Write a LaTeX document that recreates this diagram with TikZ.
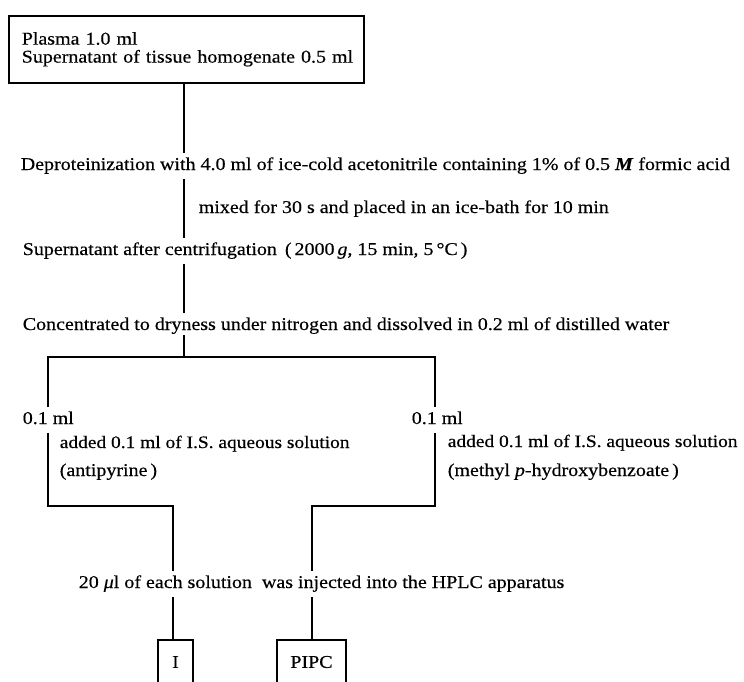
\documentclass[tikz,border=0pt]{standalone}
\usepackage{fontspec}
\setmainfont[FakeStretch=1.11,FakeBold=0.4]{Liberation Serif}
\begin{document}
\begin{tikzpicture}[x=1pt,y=-1pt,line width=1.6pt,
  txtfont/.style={font=\fontsize{18}{18}\selectfont},
  txt/.style={txtfont,anchor=base west,inner xsep=0pt,inner ysep=4pt,text height=12pt,text depth=4pt},
  addtxt/.style={txt,font=\fontsize{17.5}{18}\selectfont},
  endbox/.style={draw,txtfont,minimum height=44pt,inner sep=0pt}]
\useasboundingbox (0,0) rectangle (744,682);
\coordinate (tr) at (184,0);
\coordinate (lb) at (48,0);
\coordinate (rb) at (435,0);
\coordinate (li) at (173,0);
\coordinate (ri) at (312,0);
\coordinate (split) at (0,357);
\coordinate (join) at (0,506);
\node[draw,txtfont,anchor=north west,minimum width=355pt,minimum height=67pt,inner xsep=13pt,text width=329pt,align=left] (src) at (8,15) {\mbox{Plasma 1.0 ml}\\\mbox{Supernatant of tissue homogenate 0.5 ml}};
\node[txt] (deprot) at (20,170) {Deproteinization with 4.0 ml of ice-cold acetonitrile containing 1\% of 0.5 \textbf{\textit{M}} formic acid};
\node[txt] (mixed) at (198,213) {mixed for 30 s and placed in an ice-bath for 10 min};
\node[txt] (super) at (22,255) {Supernatant after centrifugation \,(\,2000\,\textit{g}, 15 min, 5\,°C\,)};
\node[txt,text depth=0pt] (conc) at (22,330) {Concentrated to dryness under nitrogen and dissolved in 0.2 ml of distilled water};
\node[txt] (l01) at (22,424) {0.1 ml};
\node[txt] (r01) at (411,424) {0.1 ml};
\node[addtxt] (ladd) at (59,448) {added 0.1 ml of I.S. aqueous solution};
\node[txt] (lant) at (59,476) {(antipyrine\,)};
\node[addtxt] (radd) at (447,447) {added 0.1 ml of I.S. aqueous solution};
\node[txt] (rmeth) at (447,476) {(methyl \textit{p}-hydroxybenzoate\,)};
\node[txt] (inj) at (78,588) {20 \textit{μ}l of each solution \ was injected into the HPLC apparatus};
\node[endbox,minimum width=35pt] (nI) at (175.5,662) {I};
\node[endbox,minimum width=69pt] (nP) at (311.5,662) {PIPC};
\draw (src.south -| tr) -- (deprot.north -| tr);
\draw (deprot.south -| tr) -- (super.north -| tr);
\draw (super.south -| tr) -- (conc.north -| tr);
\draw (conc.south -| tr) -- (tr |- split);
\draw (lb |- l01.north) -- (lb |- split) -- (rb |- split) -- (rb |- r01.north);
\draw (lb |- l01.south) -- (lb |- join) -- (li |- join) -- (li |- inj.north);
\draw (rb |- r01.south) -- (rb |- join) -- (ri |- join) -- (ri |- inj.north);
\draw (li |- inj.south) -- (li |- nI.north);
\draw (ri |- inj.south) -- (ri |- nP.north);
\end{tikzpicture}
\end{document}
